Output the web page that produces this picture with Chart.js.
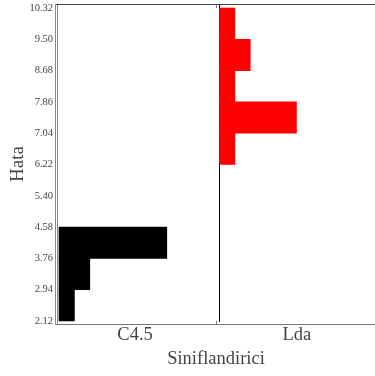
<!DOCTYPE html>
<html>
<head>
<meta charset="utf-8">
<script src="https://cdn.jsdelivr.net/npm/chart.js@4.4.1/dist/chart.umd.min.js"></script>
<style>
  html, body { margin: 0; padding: 0; background: #fff; }
  #wrap { width: 375px; height: 376px; }
</style>
</head>
<body>
<div id="wrap"><canvas id="histChart" width="375" height="376"></canvas></div>
<script>
// tick values on the error axis (also the bin edges)
const yTicks = [2.12, 2.94, 3.76, 4.58, 5.40, 6.22, 7.04, 7.86, 8.68, 9.50, 10.32];
const classifiers = ['C4.5', 'Lda'];
// counts per bin, bottom bin first
const c45Counts = [1, 2, 7, 0, 0, 0, 0, 0, 0, 0];
const ldaCounts = [0, 0, 0, 0, 0, 1, 5, 1, 2, 1];

const groupStart = [0.13, 10.55];   // where each group's bars begin (count units)
const labelPos = [5.07, 15.58];
const separatorX = 10.52;

function binData(counts, start) {
  const out = [];
  counts.forEach((c, i) => {
    if (c > 0) {
      out.push({ x: [start, start + c], y: (yTicks[i] + yTicks[i + 1]) / 2 });
    }
  });
  return out;
}

const serif = "'Liberation Serif', 'DejaVu Serif', serif";

const framePlugin = {
  id: 'frame',
  beforeDatasetsDraw(chart) {
    const { ctx, chartArea: a, scales } = chart;
    const sx = Math.round(scales.x.getPixelForValue(separatorX)) + 0.5;
    ctx.save();
    ctx.strokeStyle = '#000';
    ctx.lineWidth = 1;
    ctx.beginPath();
    ctx.moveTo(sx, a.top + 1);
    ctx.lineTo(sx, a.bottom - 2);
    ctx.stroke();
    ctx.restore();
  },
  afterDraw(chart) {
    const { ctx, chartArea: a, scales } = chart;
    const sx = Math.round(scales.x.getPixelForValue(separatorX)) - 2.5;
    ctx.save();
    ctx.lineWidth = 1;
    // top border
    ctx.strokeStyle = '#444';
    ctx.beginPath();
    ctx.moveTo(a.left - 1, a.top + 0.5);
    ctx.lineTo(a.right, a.top + 0.5);
    ctx.stroke();
    // bottom border
    ctx.strokeStyle = '#777';
    ctx.beginPath();
    ctx.moveTo(a.left - 1, a.bottom + 0.5);
    ctx.lineTo(a.right, a.bottom + 0.5);
    ctx.stroke();
    // double left border
    ctx.strokeStyle = '#888';
    ctx.beginPath();
    ctx.moveTo(a.left - 1.5, a.top);
    ctx.lineTo(a.left - 1.5, a.bottom + 1);
    ctx.moveTo(a.left + 0.5, a.top + 1);
    ctx.lineTo(a.left + 0.5, a.bottom);
    ctx.stroke();
    // small group ticks
    ctx.strokeStyle = '#777';
    ctx.beginPath();
    ctx.moveTo(sx, a.top + 1);
    ctx.lineTo(sx, a.top + 4);
    ctx.moveTo(sx, a.bottom);
    ctx.lineTo(sx, a.bottom - 3);
    ctx.stroke();
    ctx.restore();
  }
};

const ctx = document.getElementById('histChart').getContext('2d');

new Chart(ctx, {
  type: 'bar',
  data: {
    datasets: [
      {
        label: classifiers[0],
        data: binData(c45Counts, groupStart[0]),
        backgroundColor: '#000000',
        borderWidth: 0,
      },
      {
        label: classifiers[1],
        data: binData(ldaCounts, groupStart[1]),
        backgroundColor: '#ff0000',
        borderWidth: 0,
      },
    ],
  },
  options: {
    indexAxis: 'y',
    responsive: false,
    animation: false,
    layout: { padding: { top: 4, right: 0, left: 0, bottom: 0 } },
    datasets: {
      bar: { barPercentage: 1, categoryPercentage: 1, grouped: false }
    },
    scales: {
      x: {
        type: 'linear',
        min: 0,
        max: 20.65,
        offset: false,
        grid: { display: false, drawTicks: false },
        border: { display: false },
        afterBuildTicks(scale) {
          scale.ticks = labelPos.map(v => ({ value: v }));
        },
        afterFit(scale) {
          scale.height = 52;
          scale.paddingLeft = 0;
          scale.paddingRight = 0;
        },
        ticks: {
          autoSkip: false,
          maxRotation: 0,
          padding: 0,
          color: '#444',
          font: { family: serif, size: 18.5 },
          callback: (v, i) => classifiers[i],
        },
        title: {
          display: true,
          text: 'Siniflandirici',
          color: '#444',
          font: { family: serif, size: 18.5 },
          padding: { top: 0, bottom: 6 },
        },
      },
      y: {
        type: 'linear',
        min: 2.04,
        max: 10.425,
        offset: false,
        grid: { display: false, drawTicks: false },
        border: { display: false },
        afterBuildTicks(scale) {
          scale.ticks = yTicks.map(v => ({ value: v }));
        },
        afterFit(scale) {
          scale.width = 57;
          scale.paddingTop = 0;
          scale.paddingBottom = 0;
        },
        ticks: {
          autoSkip: false,
          padding: 4,
          color: '#444',
          font: { family: serif, size: 10.5 },
          callback: v => v.toFixed(2),
        },
        title: {
          display: true,
          text: 'Hata',
          color: '#444',
          font: { family: serif, size: 19 },
          padding: { top: 7, bottom: 4 },
        },
      },
    },
    plugins: {
      legend: { display: false },
      tooltip: { enabled: false },
    },
  },
  plugins: [framePlugin],
});
</script>
</body>
</html>
